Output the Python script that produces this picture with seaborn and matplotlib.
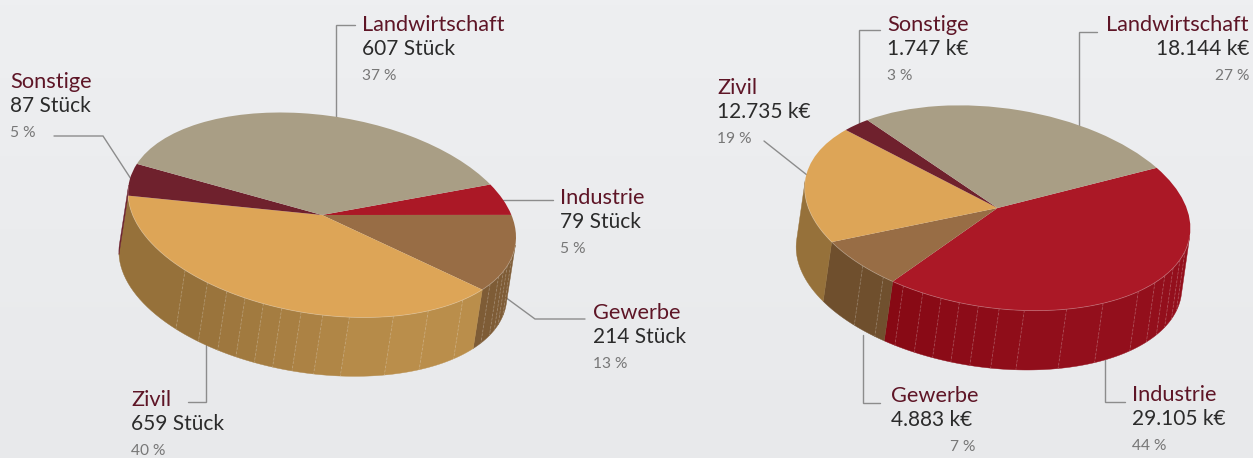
import numpy as np
import matplotlib
matplotlib.use("Agg")
import matplotlib.pyplot as plt
import matplotlib.colors as mcolors
from matplotlib.transforms import Affine2D
import seaborn as sns

# DATA
categories = ["Industrie", "Gewerbe", "Zivil", "Sonstige", "Landwirtschaft"]
stueck_values = [79, 214, 659, 87, 607]
stueck_percent = [5, 13, 40, 5, 37]
keuro_values = [29105, 4883, 12735, 1747, 18144]
keuro_percent = [44, 7, 19, 3, 27]

# COLOURS
top_colors = ["#AB1826", "#986D45", "#DDA557", "#6F212D", "#A99E85"]
side_dark = ["#850813", "#6F4F2D", "#96713A", "#6A1E2A", "#8F8570"]
side_light = ["#930F1C", "#7E5C36", "#BA8E4B", "#6A1E2A", "#8F8570"]
name_color = "#5E1526"
value_color = "#2B2B2B"
percent_color = "#777777"
line_color = "#8C8C8C"

# FACET EDGES ON THE PIE SIDE, DEGREES CLOCKWISE FROM THE ELLIPSE AXIS
left_facets = [7.5, 12.8, 16.3, 20, 25.5, 39, 52.3, 63.9, 77.4, 85.3, 91.7,
               97.5, 103.1, 108.9, 114.9, 121.7, 130.4]
right_facets = [9.4, 14.7, 20.2, 25.6, 31.1, 38.9, 52.6, 64.8, 77.8, 85.3,
                91.5, 97.2, 102.8, 108.6, 115, 122.1, 130.1]

sns.set_style("white")
plt.rcParams["font.family"] = ["Lato", "DejaVu Sans"]

fig = plt.figure(figsize=(12.53, 4.58), dpi=100)
ax = fig.add_axes([0, 0, 1, 1])

# SOFT BACKGROUND GRADIENT
ax.imshow(np.linspace(0, 1, 100).reshape(-1, 1), extent=(0, 1253, 458, 0), aspect="auto", zorder=0,
          cmap=mcolors.LinearSegmentedColormap.from_list("bg", ["#EEEFF1", "#E8E9EB"]))


def draw_pie(values, cx, cy, a, b, tilt, start, facets):
    c, s = np.cos(np.radians(tilt)), np.sin(np.radians(tilt))
    dx, dy = -b * s * 0.6, b * c * 0.6

    def point(t):
        t = np.radians(t)
        return (cx + a * c * np.cos(t) - b * s * np.sin(t),
                cy + a * s * np.cos(t) + b * c * np.sin(t))

    # WEDGE LIMITS FOLLOW THE VALUES
    bounds = -start + np.cumsum([0] + list(values)) / np.sum(values) * 360
    edges = sorted(set([0.0, 180.0] + list(facets) + [x for x in bounds if 0 < x < 180]))
    for t0, t1 in zip(edges[:-1], edges[1:]):
        mid = (t0 + t1) / 2
        i = np.searchsorted(bounds, mid) - 1
        f = np.clip((125 - mid) / 61, 0, 1)
        col = np.array(mcolors.to_rgb(side_dark[i])) * (1 - f) + np.array(mcolors.to_rgb(side_light[i])) * f
        xs, ys = point(np.linspace(t0, t1, 20))
        ax.fill(np.r_[xs, xs[::-1] + dx], np.r_[ys, ys[::-1] + dy], color=col, lw=0.3, zorder=3)
    for t in facets:
        x, y = point(t)
        ax.plot([x, x + dx], [y, y + dy], color="white", alpha=0.22, lw=0.6, dashes=(3, 2), zorder=4)

    # TOP OF THE PIE
    wedges, _ = ax.pie(values, colors=sns.color_palette(top_colors), startangle=start, counterclock=False,
                       wedgeprops={"linewidth": 0})
    matrix = np.array([[a * c, b * s, cx], [a * s, -b * c, cy], [0, 0, 1]])
    for w in wedges:
        w.set_transform(Affine2D(matrix) + ax.transData)
        w.set_zorder(5)
    xs, ys = point(np.linspace(0, 180, 200))
    ax.plot(xs, ys, color="white", alpha=0.25, lw=0.6, zorder=6)


def leader(xs, ys):
    ax.plot(xs, ys, color=line_color, lw=1.0, zorder=2, solid_joinstyle="miter")


def label(x, y, name, value, percent, ha="left", pct_x=None):
    ax.text(x, y, name, color=name_color, fontsize=15.7, ha=ha, va="baseline", zorder=7)
    ax.text(x, y + 24, value, color=value_color, fontsize=15, ha=ha, va="baseline", zorder=7)
    ax.text(x if pct_x is None else pct_x, y + 49, f"{percent} %", color=percent_color, fontsize=11.2,
            ha=ha if pct_x is None else "right", va="baseline", zorder=7)


def stueck(i):
    return f"{stueck_values[i]} Stück"


def keuro(i):
    return f"{keuro_values[i]:,} k€".replace(",", ".")


draw_pie(stueck_values, 322, 215, 195.7, 99.2, 8.8, 34.3, left_facets)
draw_pie(keuro_values, 997.5, 208, 194.3, 99.9, 8.15, 38.6, right_facets)

# LEADER LINES, LEFT PIE
leader([355, 336, 336], [25, 25, 118])
leader([54, 103, 131], [136, 136, 179])
leader([503, 553], [200, 200])
leader([505, 535, 585], [297, 319, 319])
leader([206, 206, 188], [345, 402, 402])

# LEADER LINES, RIGHT PIE
leader([880, 859, 859], [30, 30, 126])
leader([1097, 1079, 1079], [32, 32, 128])
leader([764, 807], [141, 175])
leader([880, 862.5, 862.5], [403, 403, 335])
leader([1105, 1105, 1125], [360, 402, 402])

# LABELS, LEFT PIE
label(560, 204, categories[0], stueck(0), stueck_percent[0])
label(593, 319, categories[1], stueck(1), stueck_percent[1])
label(131, 406, categories[2], stueck(2), stueck_percent[2])
label(10, 88, categories[3], stueck(3), stueck_percent[3])
label(362, 31, categories[4], stueck(4), stueck_percent[4])

# LABELS, RIGHT PIE
label(1132, 401, categories[0], keuro(0), keuro_percent[0])
label(891, 402, categories[1], keuro(1), keuro_percent[1], pct_x=975)
label(717, 94, categories[2], keuro(2), keuro_percent[2])
label(887, 31, categories[3], keuro(3), keuro_percent[3])
label(1249, 31, categories[4], keuro(4), keuro_percent[4], ha="right")

ax.set_aspect("auto")
ax.set_xlim(0, 1253)
ax.set_ylim(458, 0)
ax.axis("off")

fig.savefig("out.png", dpi=100)
